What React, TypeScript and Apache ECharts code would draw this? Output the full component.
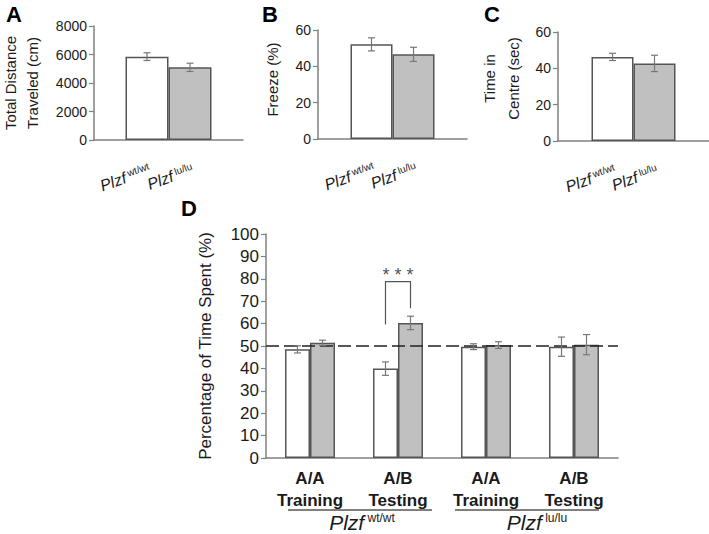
import React, { useEffect, useRef } from "react";
import * as echarts from "echarts";

// Panels A–C: one group, two genotypes
const genotypeLabels = ["{a|Plzf}{b| wt/wt}", "{a|Plzf}{b| lu/lu}"];
const distanceMean = [5850, 5100];
const distanceErr = [270, 290];
const freezeMean = [52.1, 46.6];
const freezeErr = [3.6, 3.9];
const centreMean = [46.3, 42.7];
const centreErr = [2.0, 4.5];
const ticksA = [0, 2000, 4000, 6000, 8000];
const ticksBC = [0, 20, 40, 60];

// Panel D
const categoriesD = ["A/A\nTraining", "A/B\nTesting", "A/A\nTraining", "A/B\nTesting"];
const openD = [48.5, 39.9, 49.7, 49.7];
const openErrD = [1.6, 3.0, 1.3, 4.3];
const filledD = [51.4, 60.3, 50.4, 50.6];
const filledErrD = [1.2, 3.0, 1.5, 4.5];
const ticksD = [0, 10, 20, 30, 40, 50, 60, 70, 80, 90, 100];
const chanceLevel = 50;
// significance bracket: [category, top, left foot, right foot, label]
const bracketD = [[1, 78.7, 59.6, 66.8, 81.5]];

const TXT = "#1a1a1a";
const AXIS = "#808080";
const BORDER = "#555555";
const GREY = "#c0c0c0";
const ERR = "#777777";
const FONT = "Liberation Sans, Arial, sans-serif";

export default function App() {
  const ref = useRef<HTMLDivElement>(null);
  useEffect(() => {
    const chart = echarts.init(ref.current!, null, { renderer: "svg" });

    const barWidths = [43, 42, 42, 25];

    const makeErr = (gridIdx: number, means: number[][], errs: number[][]) => {
      const data: number[][] = [];
      means.forEach((m, s) => m.forEach((v, c) => data.push([c, s, v, errs[s][c]])));
      const bw = barWidths[gridIdx];
      return {
        type: "custom",
        xAxisIndex: gridIdx,
        yAxisIndex: gridIdx,
        z: 5,
        encode: { x: 0, y: 2 },
        data,
        renderItem: (params: any, api: any) => {
          const c = api.value(0);
          const s = api.value(1);
          const m = api.value(2);
          const e = api.value(3);
          const base = api.coord([c, m]);
          const nS = means.length;
          const x = base[0] + (s - (nS - 1) / 2) * bw;
          const top = api.coord([c, m + e])[1];
          const bot = api.coord([c, m - e])[1];
          const cap = 3.5;
          const style = { stroke: ERR, lineWidth: 1.2 };
          return {
            type: "group",
            children: [
              { type: "line", shape: { x1: x, y1: top, x2: x, y2: bot }, style },
              { type: "line", shape: { x1: x - cap, y1: top, x2: x + cap, y2: top }, style },
              { type: "line", shape: { x1: x - cap, y1: bot, x2: x + cap, y2: bot }, style },
            ],
          };
        },
      };
    };

    const labelRich = {
      a: { fontSize: 16, fontStyle: "italic", color: TXT, fontFamily: FONT },
      b: { fontSize: 10, color: TXT, fontFamily: FONT, verticalAlign: "top" },
    };

    const smallBar = (gridIdx: number, values: number[], si: number) => ({
      type: "bar",
      xAxisIndex: gridIdx,
      yAxisIndex: gridIdx,
      data: [values[si]],
      barWidth: barWidths[gridIdx],
      barGap: "0%",
      itemStyle: { color: si === 0 ? "#ffffff" : GREY, borderColor: BORDER, borderWidth: 1.5 },
      label: {
        show: true,
        position: "bottom",
        distance: 21,
        rotate: 20,
        align: "right",
        verticalAlign: "top",
        formatter: genotypeLabels[si],
        rich: labelRich,
      },
    });

    const yAxisBase = (gridIdx: number, max: number, interval: number, name: string, gap: number, fs: number, lh: number, pad: number[]) => ({
      type: "value",
      gridIndex: gridIdx,
      min: 0,
      max,
      interval,
      name,
      nameLocation: "middle",
      nameGap: gap,
      nameRotate: 90,
      nameMoveOverlap: false,
      nameTextStyle: { fontSize: fs, lineHeight: lh, color: TXT, fontFamily: FONT, padding: pad },
      axisLine: { show: true, lineStyle: { color: AXIS, width: 1.5 } },
      axisTick: { show: true, length: 5, lineStyle: { color: AXIS, width: 1.2 } },
      splitLine: { show: false },
      axisLabel: {
        fontSize: gridIdx === 3 ? 17 : 14,
        color: TXT,
        margin: 7,
        fontFamily: FONT,
        formatter: (v: number) => String(v),
      },
    });

    const xSmall = (gridIdx: number) => ({
      type: "category",
      gridIndex: gridIdx,
      data: [""],
      axisLine: { show: true, lineStyle: { color: AXIS, width: 1.5 } },
      axisTick: { show: false },
      axisLabel: { show: false },
    });

    const option: any = {
      animation: false,
      backgroundColor: "#ffffff",
      textStyle: { fontFamily: FONT },
      grid: [
        { left: 94, top: 26, width: 149, height: 114, outerBoundsMode: "none" },
        { left: 318, top: 30, width: 149, height: 109, outerBoundsMode: "none" },
        { left: 558, top: 32, width: 151, height: 109, outerBoundsMode: "none" },
        { left: 266, top: 234, width: 352, height: 224, outerBoundsMode: "none" },
      ],
      xAxis: [
        xSmall(0),
        xSmall(1),
        xSmall(2),
        {
          type: "category",
          gridIndex: 3,
          data: categoriesD,
          axisLine: { show: true, lineStyle: { color: AXIS, width: 1.5 } },
          axisTick: { show: false },
          axisLabel: { fontSize: 17, fontWeight: "bold", lineHeight: 22, color: TXT, margin: 9, fontFamily: FONT },
        },
      ],
      yAxis: [
        yAxisBase(0, ticksA[ticksA.length - 1], ticksA[1] - ticksA[0], "Total Distance\nTraveled (cm)", 51, 15, 22, [0, 0, 0, 0]),
        yAxisBase(1, ticksBC[ticksBC.length - 1], ticksBC[1] - ticksBC[0], "Freeze (%)", 37, 15, 18, [0, 0, 0, 10]),
        yAxisBase(2, ticksBC[ticksBC.length - 1], ticksBC[1] - ticksBC[0], "Time in\nCentre (sec)", 33, 15, 24, [0, 0, 0, 16]),
        yAxisBase(3, ticksD[ticksD.length - 1], ticksD[1] - ticksD[0], "Percentage of Time Spent (%)", 51, 17, 20, [0, 0, 0, 0]),
      ],
      series: [
        smallBar(0, distanceMean, 0),
        smallBar(0, distanceMean, 1),
        makeErr(0, [[distanceMean[0]], [distanceMean[1]]], [[distanceErr[0]], [distanceErr[1]]]),
        smallBar(1, freezeMean, 0),
        smallBar(1, freezeMean, 1),
        makeErr(1, [[freezeMean[0]], [freezeMean[1]]], [[freezeErr[0]], [freezeErr[1]]]),
        smallBar(2, centreMean, 0),
        smallBar(2, centreMean, 1),
        makeErr(2, [[centreMean[0]], [centreMean[1]]], [[centreErr[0]], [centreErr[1]]]),
        {
          type: "bar",
          xAxisIndex: 3,
          yAxisIndex: 3,
          data: openD,
          barWidth: 25,
          barGap: "0%",
          itemStyle: { color: "#ffffff", borderColor: BORDER, borderWidth: 1.5 },
          markLine: {
            silent: true,
            symbol: "none",
            label: { show: false },
            lineStyle: { color: "#222222", width: 1.5, type: [13, 5] },
            data: [{ yAxis: chanceLevel }],
          },
        },
        {
          type: "bar",
          xAxisIndex: 3,
          yAxisIndex: 3,
          data: filledD,
          barWidth: 25,
          barGap: "0%",
          itemStyle: { color: GREY, borderColor: BORDER, borderWidth: 1.5 },
        },
        makeErr(3, [openD, filledD], [openErrD, filledErrD]),
        {
          type: "custom",
          xAxisIndex: 3,
          yAxisIndex: 3,
          z: 6,
          encode: { x: 0, y: 1 },
          data: bracketD,
          renderItem: (params: any, api: any) => {
            const c = api.value(0);
            const top = api.coord([c, api.value(1)]);
            const lf = api.coord([c, api.value(2)])[1];
            const rf = api.coord([c, api.value(3)])[1];
            const ly = api.coord([c, api.value(4)])[1];
            const bw = barWidths[3];
            const xl = top[0] - bw / 2;
            const xr = top[0] + bw / 2;
            return {
              type: "group",
              children: [
                {
                  type: "polyline",
                  shape: { points: [[xl, lf], [xl, top[1]], [xr, top[1]], [xr, rf]] },
                  style: { stroke: "#555555", lineWidth: 1.2, fill: "none" },
                },
                {
                  type: "text",
                  x: top[0],
                  y: ly,
                  style: {
                    text: "* * *",
                    fontSize: 18,
                    fill: "#555555",
                    align: "center",
                    verticalAlign: "middle",
                    fontFamily: FONT,
                  },
                },
              ],
            };
          },
        },
      ],
      graphic: [
        { type: "text", left: 6, top: 3, style: { text: "A", fontSize: 22, fontWeight: "bold", fill: "#000", fontFamily: FONT } },
        { type: "text", left: 262, top: 3, style: { text: "B", fontSize: 22, fontWeight: "bold", fill: "#000", fontFamily: FONT } },
        { type: "text", left: 484, top: 3, style: { text: "C", fontSize: 22, fontWeight: "bold", fill: "#000", fontFamily: FONT } },
        { type: "text", left: 181, top: 197, style: { text: "D", fontSize: 22, fontWeight: "bold", fill: "#000", fontFamily: FONT } },
        { type: "line", shape: { x1: 288, y1: 510, x2: 432, y2: 510 }, style: { stroke: "#000", lineWidth: 1 } },
        { type: "line", shape: { x1: 455, y1: 510, x2: 599, y2: 510 }, style: { stroke: "#000", lineWidth: 1 } },
        {
          type: "text",
          x: 362,
          y: 522,
          style: {
            text: "{a|Plzf}{b| wt/wt}",
            align: "center",
            verticalAlign: "middle",
            rich: {
              a: { fontSize: 21, fontStyle: "italic", fill: TXT, fontFamily: FONT },
              b: { fontSize: 12, fill: TXT, fontFamily: FONT, verticalAlign: "top" },
            },
          },
        },
        {
          type: "text",
          x: 537,
          y: 522,
          style: {
            text: "{a|Plzf}{b| lu/lu}",
            align: "center",
            verticalAlign: "middle",
            rich: {
              a: { fontSize: 21, fontStyle: "italic", fill: TXT, fontFamily: FONT },
              b: { fontSize: 12, fill: TXT, fontFamily: FONT, verticalAlign: "top" },
            },
          },
        },
      ],
    };

    chart.setOption(option);
    return () => chart.dispose();
  }, []);

  return <div ref={ref} style={{ width: 709, height: 534, position: "absolute", left: 0, top: 0 }} />;
}
